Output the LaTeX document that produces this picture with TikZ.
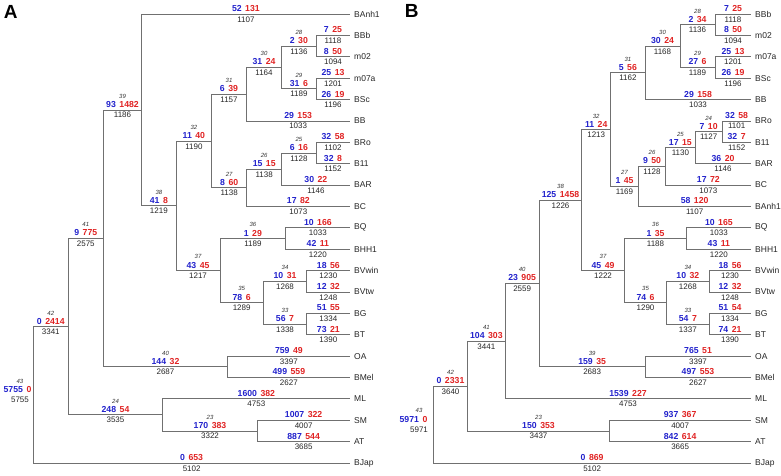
\documentclass[tikz,border=0pt]{standalone}
\usepackage{fontspec}
\setmainfont{Liberation Sans}
\usepackage{tikz}
\usetikzlibrary{positioning,calc}
\definecolor{gainblue}{HTML}{2222CC}
\definecolor{lossred}{HTML}{E02222}
\definecolor{branchgray}{HTML}{707070}

% edge from parent to child, gains/losses above, total below
\newcommand{\twig}[5]{%
  \draw[branch] (#1) |- (#2);
  \node[counts, above=2.2pt] (#2c) at ($(#1|-#2)!.5!(#2)$)
    {\textcolor{gainblue}{#3}\hspace{3.5pt}\textcolor{lossred}{#4}};
  \node[total, below=2.3pt] (#2t) at ($(#1|-#2)!.5!(#2)$) {#5};
}
% same, with the node number on top
\newcommand{\clade}[6]{%
  \twig{#1}{#2}{#3}{#4}{#5}
  \node[ident, above=2.6pt of #2c] (#2i) {#6};
}

\begin{document}
\begin{tikzpicture}[x=1pt, y=-1pt,
    branch/.style={draw=branchgray, line width=0.8pt},
    counts/.style={inner sep=0pt, font=\fontsize{8.7}{9}\selectfont\bfseries},
    total/.style={inner sep=0pt, text=black!85, font=\fontsize{8}{9}\selectfont},
    ident/.style={inner sep=0pt, text=black!80, font=\fontsize{6}{7}\selectfont\itshape},
    taxon/.style={inner sep=0pt, text=black!85, font=\fontsize{8.5}{9}\selectfont},
    panel/.style={inner sep=0pt, font=\fontsize{19}{19}\selectfont\bfseries}]
  \useasboundingbox (0,0) rectangle (781,475);

  % ---------------- A ----------------
  \node[panel] (lblA) at (10.8,11.7) {A};

  \foreach \t [count=\i from 0] in {BAnh1,BBb,m02,m07a,BSc,BB,BRo,B11,BAR,BC,
      BQ,BHH1,BVwin,BVtw,BG,BT,OA,BMel,ML,SM,AT,BJap}
    \coordinate (a\t) at (350,14+21.38*\i);

  \coordinate (a43) at (33.3,394.8);
  \coordinate (a42) at (68.3,326.6);
  \coordinate (a41) at (103.3,238.35);
  \coordinate (a39) at (141.7,109.9);
  \coordinate (a38) at (176,205.75);
  \coordinate (a32) at (211.7,140.95);
  \coordinate (a31) at (246.3,94.2);
  \coordinate (a30) at (281.7,67.45);
  \coordinate (a28) at (316,46.1);
  \coordinate (a29) at (316,88.8);
  \coordinate (a27) at (246.7,187.7);
  \coordinate (a26) at (281.7,169.0);
  \coordinate (a25) at (316,153.0);
  \coordinate (a37) at (220,270.55);
  \coordinate (a36) at (285.7,238.5);
  \coordinate (a35) at (263.3,302.6);
  \coordinate (a34) at (306.7,281.25);
  \coordinate (a33) at (306.7,324.0);
  \coordinate (a40) at (227.7,366.8);
  \coordinate (a24) at (162.7,414.85);
  \coordinate (a23) at (257.3,430.9);

  % root labels
  \node[counts, above=2.2pt] (a43c) at (17.5,394.8)
    {\textcolor{gainblue}{5755}\hspace{3.5pt}\textcolor{lossred}{0}};
  \node[total, below=2.3pt] (a43t) at (20,394.8) {5755};
  \node[ident, above=2.6pt of a43c, xshift=2.5pt] (a43i) {43};

  \clade{a43}{a42}{0}{2414}{3341}{42}
  \clade{a42}{a41}{9}{775}{2575}{41}
  \clade{a41}{a39}{93}{1482}{1186}{39}
  \twig{a39}{aBAnh1}{52}{131}{1107}
  \clade{a39}{a38}{41}{8}{1219}{38}
  \clade{a38}{a32}{11}{40}{1190}{32}
  \clade{a32}{a31}{6}{39}{1157}{31}
  \clade{a31}{a30}{31}{24}{1164}{30}
  \clade{a30}{a28}{2}{30}{1136}{28}
  \twig{a28}{aBBb}{7}{25}{1118}
  \twig{a28}{am02}{8}{50}{1094}
  \clade{a30}{a29}{31}{6}{1189}{29}
  \twig{a29}{am07a}{25}{13}{1201}
  \twig{a29}{aBSc}{26}{19}{1196}
  \twig{a31}{aBB}{29}{153}{1033}
  \clade{a32}{a27}{8}{60}{1138}{27}
  \clade{a27}{a26}{15}{15}{1138}{26}
  \clade{a26}{a25}{6}{16}{1128}{25}
  \twig{a25}{aBRo}{32}{58}{1102}
  \twig{a25}{aB11}{32}{8}{1152}
  \twig{a26}{aBAR}{30}{22}{1146}
  \twig{a27}{aBC}{17}{82}{1073}
  \clade{a38}{a37}{43}{45}{1217}{37}
  \clade{a37}{a36}{1}{29}{1189}{36}
  \twig{a36}{aBQ}{10}{166}{1033}
  \twig{a36}{aBHH1}{42}{11}{1220}
  \clade{a37}{a35}{78}{6}{1289}{35}
  \clade{a35}{a34}{10}{31}{1268}{34}
  \twig{a34}{aBVwin}{18}{56}{1230}
  \twig{a34}{aBVtw}{12}{32}{1248}
  \clade{a35}{a33}{56}{7}{1338}{33}
  \twig{a33}{aBG}{51}{55}{1334}
  \twig{a33}{aBT}{73}{21}{1390}
  \clade{a41}{a40}{144}{32}{2687}{40}
  \twig{a40}{aOA}{759}{49}{3397}
  \twig{a40}{aBMel}{499}{559}{2627}
  \clade{a42}{a24}{248}{54}{3535}{24}
  \twig{a24}{aML}{1600}{382}{4753}
  \clade{a24}{a23}{170}{383}{3322}{23}
  \twig{a23}{aSM}{1007}{322}{4007}
  \twig{a23}{aAT}{887}{544}{3685}
  \twig{a43}{aBJap}{0}{653}{5102}

  \foreach \t in {BAnh1,BBb,m02,m07a,BSc,BB,BRo,B11,BAR,BC,
      BQ,BHH1,BVwin,BVtw,BG,BT,OA,BMel,ML,SM,AT,BJap}
    \node[taxon, anchor=west, right=4pt of a\t] (a\t-name) {\t};

  % ---------------- B ----------------
  \node[panel] (lblB) at (411.7,11) {B};

  \foreach \t [count=\i from 0] in {BBb,m02,m07a,BSc,BB,BRo,B11,BAR,BC,BAnh1,
      BQ,BHH1,BVwin,BVtw,BG,BT,OA,BMel,ML,SM,AT,BJap}
    \coordinate (b\t) at (751,14+21.38*\i);

  \coordinate (b43) at (433.3,424.5);
  \coordinate (b42) at (467.7,386.0);
  \coordinate (b41) at (505,341.1);
  \coordinate (b40) at (539.3,283.45);
  \coordinate (b38) at (581.7,200.1);
  \coordinate (b32) at (610.7,129.6);
  \coordinate (b31) at (645,72.8);
  \coordinate (b30) at (680,46.1);
  \coordinate (b28) at (715,24.7);
  \coordinate (b29) at (715,67.45);
  \coordinate (b27) at (638.3,186.35);
  \coordinate (b26) at (665.7,166.3);
  \coordinate (b25) at (695,147.65);
  \coordinate (b24) at (722.3,131.6);
  \coordinate (b37) at (624.3,270.55);
  \coordinate (b36) at (686.7,238.5);
  \coordinate (b35) at (666.7,302.6);
  \coordinate (b34) at (709,281.25);
  \coordinate (b33) at (709,324.0);
  \coordinate (b39) at (645,366.8);
  \coordinate (b23) at (609.3,430.9);

  % root labels
  \node[counts, above=2.2pt] (b43c) at (413.5,424.5)
    {\textcolor{gainblue}{5971}\hspace{3.5pt}\textcolor{lossred}{0}};
  \node[total, below=2.3pt] (b43t) at (419,424.5) {5971};
  \node[ident, above=2.6pt of b43c, xshift=5.5pt] (b43i) {43};

  \clade{b43}{b42}{0}{2331}{3640}{42}
  \clade{b42}{b41}{104}{303}{3441}{41}
  \clade{b41}{b40}{23}{905}{2559}{40}
  \clade{b40}{b38}{125}{1458}{1226}{38}
  \clade{b38}{b32}{11}{24}{1213}{32}
  \clade{b32}{b31}{5}{56}{1162}{31}
  \clade{b31}{b30}{30}{24}{1168}{30}
  \clade{b30}{b28}{2}{34}{1136}{28}
  \twig{b28}{bBBb}{7}{25}{1118}
  \twig{b28}{bm02}{8}{50}{1094}
  \clade{b30}{b29}{27}{6}{1189}{29}
  \twig{b29}{bm07a}{25}{13}{1201}
  \twig{b29}{bBSc}{26}{19}{1196}
  \twig{b31}{bBB}{29}{158}{1033}
  \clade{b32}{b27}{1}{45}{1169}{27}
  \clade{b27}{b26}{9}{50}{1128}{26}
  \clade{b26}{b25}{17}{15}{1130}{25}
  \clade{b25}{b24}{7}{10}{1127}{24}
  \twig{b24}{bBRo}{32}{58}{1101}
  \twig{b24}{bB11}{32}{7}{1152}
  \twig{b25}{bBAR}{36}{20}{1146}
  \twig{b26}{bBC}{17}{72}{1073}
  \twig{b27}{bBAnh1}{58}{120}{1107}
  \clade{b38}{b37}{45}{49}{1222}{37}
  \clade{b37}{b36}{1}{35}{1188}{36}
  \twig{b36}{bBQ}{10}{165}{1033}
  \twig{b36}{bBHH1}{43}{11}{1220}
  \clade{b37}{b35}{74}{6}{1290}{35}
  \clade{b35}{b34}{10}{32}{1268}{34}
  \twig{b34}{bBVwin}{18}{56}{1230}
  \twig{b34}{bBVtw}{12}{32}{1248}
  \clade{b35}{b33}{54}{7}{1337}{33}
  \twig{b33}{bBG}{51}{54}{1334}
  \twig{b33}{bBT}{74}{21}{1390}
  \clade{b40}{b39}{159}{35}{2683}{39}
  \twig{b39}{bOA}{765}{51}{3397}
  \twig{b39}{bBMel}{497}{553}{2627}
  \twig{b41}{bML}{1539}{227}{4753}
  \clade{b42}{b23}{150}{353}{3437}{23}
  \twig{b23}{bSM}{937}{367}{4007}
  \twig{b23}{bAT}{842}{614}{3665}
  \twig{b43}{bBJap}{0}{869}{5102}

  \foreach \t in {BBb,m02,m07a,BSc,BB,BRo,B11,BAR,BC,BAnh1,
      BQ,BHH1,BVwin,BVtw,BG,BT,OA,BMel,ML,SM,AT,BJap}
    \node[taxon, right=4pt of b\t] (b\t-name) {\t};
\end{tikzpicture}
\end{document}
